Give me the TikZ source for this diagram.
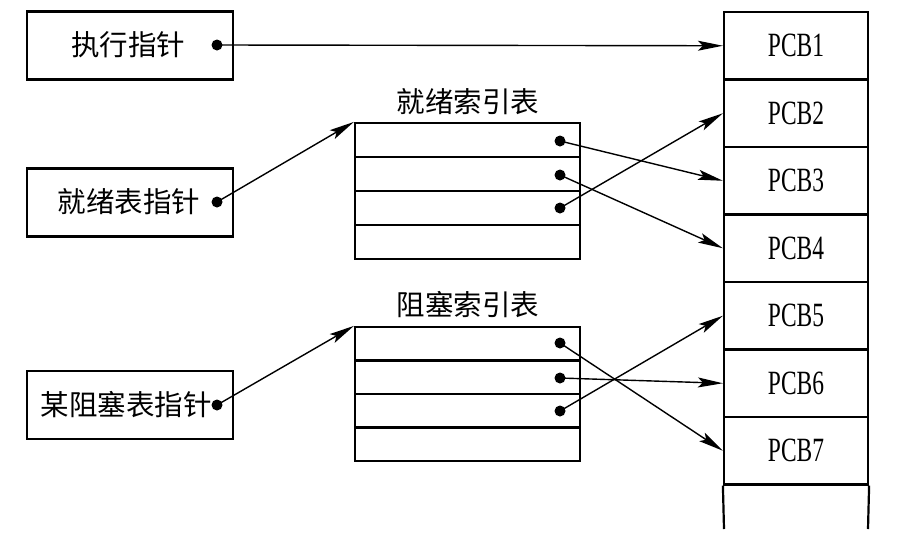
\documentclass[tikz,border=0pt]{standalone}
\usepackage{fontspec}
\setmainfont{Liberation Serif}
\newfontfamily\cjk{Noto Sans CJK SC}
\newfontfamily\pcbfont[FakeStretch=0.69]{Liberation Serif}
\usetikzlibrary{arrows.meta}
\tikzset{
  ptrbox/.style={draw, line width=2.2pt, minimum width=206pt, minimum height=68pt, inner sep=0pt},
  cjklbl/.style={inner sep=0pt, font=\cjk\fontsize{28.5}{31}\selectfont},
  rowbox/.style={draw, line width=2.2pt, minimum width=225pt, minimum height=34pt, inner sep=0pt},
  pcbbox/.style={draw, line width=2.2pt, minimum width=144pt, minimum height=67.5pt, inner sep=0pt, font=\pcbfont\fontsize{34}{36}\selectfont},
  pdot/.style={circle, fill=black, inner sep=0pt, minimum size=11pt},
  arr/.style={line width=1.4pt, -{Stealth[length=25pt,width=10pt,inset=5pt]}},
  wall/.style={line width=2.2pt}
}
\begin{document}
\begin{tikzpicture}[x=1pt,y=-1pt]
\useasboundingbox (0,0) rectangle (899,555);
% left pointer boxes
\node[ptrbox] (b1) at (130,45.5) {};
\node[ptrbox] (b2) at (130,202.5) {};
\node[ptrbox] (b3) at (130,405) {};
\node[cjklbl] (l1) at (128,45) {执行指针};
\node[cjklbl] (l2) at (129,202) {就绪表指针};
\node[cjklbl] (l3) at (126,405) {某阻塞表指针};
\node[pdot] (d1) at (217,45) {};
\node[pdot] (d2) at (217,202) {};
\node[pdot] (d3) at (217,405) {};
% ready index table
\node[cjklbl] (rt) at (468,102) {就绪索引表};
\node[rowbox] (r1) at (467.5,140) {};
\node[rowbox] (r2) at (467.5,174) {};
\node[rowbox] (r3) at (467.5,208) {};
\node[rowbox] (r4) at (467.5,242) {};
\node[pdot] (rd1) at (560,141) {};
\node[pdot] (rd2) at (560,175) {};
\node[pdot] (rd3) at (560,208) {};
% blocked index table
\node[cjklbl] (bt) at (468,305) {阻塞索引表};
\node[rowbox, minimum height=33.5pt] (s1) at (467.5,343.75) {};
\node[rowbox, minimum height=33.5pt] (s2) at (467.5,377.25) {};
\node[rowbox, minimum height=33.5pt] (s3) at (467.5,410.75) {};
\node[rowbox, minimum height=33.5pt] (s4) at (467.5,444.25) {};
\node[pdot] (sd1) at (560,343) {};
\node[pdot] (sd2) at (560,378) {};
\node[pdot] (sd3) at (560,411) {};
% PCB column
\node[pcbbox] (p1) at (796,45.75) {PCB1};
\node[pcbbox] (p2) at (796,113.25) {PCB2};
\node[pcbbox] (p3) at (796,180.75) {PCB3};
\node[pcbbox] (p4) at (796,248.25) {PCB4};
\node[pcbbox] (p5) at (796,315.75) {PCB5};
\node[pcbbox] (p6) at (796,383.25) {PCB6};
\node[pcbbox] (p7) at (796,450.75) {PCB7};
\coordinate (e1) at (724,529);
\coordinate (e2) at (868,529);
\draw[wall] (p7.south west) -- (e1);
\draw[wall] (p7.south east) -- (e2);
% connectors
\draw[arr] (d1.center) -- (p1.west);
\draw[arr] (d2.center) -- (r1.north west);
\draw[arr] (d3.center) -- (s1.north west);
\draw[arr] (rd1.center) -- (p3.west);
\draw[arr] (rd2.center) -- (p4.west);
\draw[arr] (rd3.center) -- (p2.west);
\draw[arr] (sd1.center) -- (p7.west);
\draw[arr] (sd2.center) -- (p6.west);
\draw[arr] (sd3.center) -- (p5.west);
\end{tikzpicture}
\end{document}
